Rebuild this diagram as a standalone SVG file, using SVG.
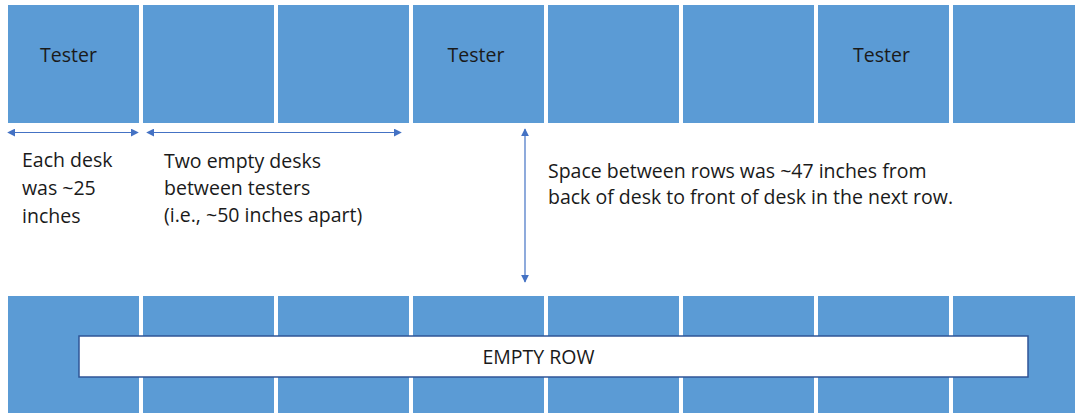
<svg xmlns="http://www.w3.org/2000/svg" width="1075" height="413" viewBox="0 0 1075 413">
<style>
.desk{fill:#5B9BD5;}
.t{font-family:"Open Sans","Liberation Sans",sans-serif;font-size:19.5px;fill:#1a1a1a;}
.c{text-anchor:middle;}
.arr{stroke:#4472C4;stroke-width:1.2;fill:none;marker-start:url(#ah);marker-end:url(#ah);}
</style>
<defs>
<marker id="ah" viewBox="0 0 10 10" refX="9" refY="5" markerWidth="8" markerHeight="8" markerUnits="userSpaceOnUse" orient="auto-start-reverse">
<path d="M0,0 L10,5 L0,10 z" fill="#4472C4"/>
</marker>
</defs>
<g id="top-row">
<g id="desk-t1"><rect class="desk" x="8" y="5" width="131" height="118"/><text class="t c" x="68.5" y="62">Tester</text></g>
<g id="desk-t2"><rect class="desk" x="143" y="5" width="131" height="118"/></g>
<g id="desk-t3"><rect class="desk" x="278" y="5" width="131" height="118"/></g>
<g id="desk-t4"><rect class="desk" x="413" y="5" width="131" height="118"/><text class="t c" x="476" y="62">Tester</text></g>
<g id="desk-t5"><rect class="desk" x="548" y="5" width="131" height="118"/></g>
<g id="desk-t6"><rect class="desk" x="683" y="5" width="131" height="118"/></g>
<g id="desk-t7"><rect class="desk" x="818" y="5" width="131" height="118"/><text class="t c" x="881.5" y="62">Tester</text></g>
<g id="desk-t8"><rect class="desk" x="953" y="5" width="131" height="118"/></g>
</g>
<g id="bottom-row">
<g id="desk-b1"><rect class="desk" x="8" y="296" width="131" height="120"/></g>
<g id="desk-b2"><rect class="desk" x="143" y="296" width="131" height="120"/></g>
<g id="desk-b3"><rect class="desk" x="278" y="296" width="131" height="120"/></g>
<g id="desk-b4"><rect class="desk" x="413" y="296" width="131" height="120"/></g>
<g id="desk-b5"><rect class="desk" x="548" y="296" width="131" height="120"/></g>
<g id="desk-b6"><rect class="desk" x="683" y="296" width="131" height="120"/></g>
<g id="desk-b7"><rect class="desk" x="818" y="296" width="131" height="120"/></g>
<g id="desk-b8"><rect class="desk" x="953" y="296" width="131" height="120"/></g>
</g>
<g id="empty-row">
<rect x="79" y="336" width="949" height="41" fill="#ffffff" stroke="#2F5597" stroke-width="1.5"/>
<text class="t c" x="538.5" y="364">EMPTY ROW</text>
</g>
<g id="connectors">
<line class="arr" x1="8" y1="132.5" x2="138" y2="132.5"/>
<line class="arr" x1="147" y1="132.5" x2="401" y2="132.5"/>
<line class="arr" x1="525" y1="129" x2="525" y2="282"/>
</g>
<g id="labels">
<text class="t" x="22" y="167">Each desk</text>
<text class="t" x="22" y="195">was ~25</text>
<text class="t" x="22" y="223">inches</text>
<text class="t" x="164" y="168">Two empty desks</text>
<text class="t" x="164" y="195">between testers</text>
<text class="t" x="164" y="222">(i.e., ~50 inches apart)</text>
<text class="t" x="548" y="178">Space between rows was ~47 inches from</text>
<text class="t" x="548" y="204">back of desk to front of desk in the next row.</text>
</g>
</svg>
